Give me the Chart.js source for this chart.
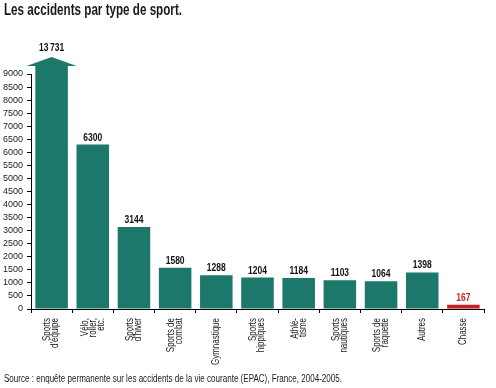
<!DOCTYPE html>
<html>
<head>
<meta charset="utf-8">
<script src="https://cdn.jsdelivr.net/npm/chart.js@4.4.0/dist/chart.umd.min.js"></script>
<style>
  html, body { margin: 0; padding: 0; background: #fff; }
  #wrap { width: 496px; height: 388px; position: relative; }
</style>
</head>
<body>
<div id="wrap"><canvas id="graph"></canvas></div>
<script>
// data
const categories = [
  ["Sports", "d'équipe"],
  ["Vélo,", "roller,", "etc."],
  ["Sports", "d'hiver"],
  ["Sports de", "combat"],
  ["Gymnastique"],
  ["Sports", "hippiques"],
  ["Athlé-", "tisme"],
  ["Sports", "nautiques"],
  ["Sports de", "raquette"],
  ["Autres"],
  ["Chasse"]
];
const accidents = [13731, 6300, 3144, 1580, 1288, 1204, 1184, 1103, 1064, 1398, 167];
const highlighted = "Chasse";
const yMax = 9000;
const yStep = 500;

const title = "Les accidents par type de sport.";
const source = "Source : enquête permanente sur les accidents de la vie courante (EPAC), France, 2004-2005.";

const TEAL = '#1b786b';
const RED = '#c61f27';
const FONT = "'Liberation Sans', Arial, sans-serif";

function isHighlight(i) { return categories[i].join(' ') === highlighted; }

function fmt(v) { // 13731 -> "13 731"
  if (v < 10000) return String(v);
  return String(v).replace(/\B(?=(\d{3})+(?!\d))/g, '\u2009');
}

// no condensed font installed, so squeeze text horizontally
function narrowText(ctx, txt, x, y, sx) {
  ctx.save();
  ctx.translate(x, y);
  ctx.scale(sx, 1);
  ctx.fillText(txt, 0, 0);
  ctx.restore();
}

// draws title, source, arrow for the cut bar, value labels and rotated category labels
const extras = {
  id: 'extras',
  afterDraw(chart) {
    const ctx = chart.ctx;
    const area = chart.chartArea;
    const meta = chart.getDatasetMeta(0);
    const xs = chart.scales.x;
    ctx.save();

    // title, fit to its width in the picture
    ctx.fillStyle = '#1a1a1a';
    ctx.font = "bold 16px " + FONT;
    ctx.textAlign = 'left';
    ctx.textBaseline = 'alphabetic';
    narrowText(ctx, title, 4, 15, 178 / ctx.measureText(title).width);

    // source
    ctx.font = "10px " + FONT;
    ctx.fillStyle = '#222';
    narrowText(ctx, source, 4, 382, 338 / ctx.measureText(source).width);

    meta.data.forEach((bar, i) => {
      const v = accidents[i];
      let labelY = bar.y - 4;
      if (v > yMax) { // bar goes off the scale: draw an arrow on top
        const w = bar.width;
        const shaftTop = area.top - 8;
        ctx.fillStyle = TEAL;
        ctx.fillRect(bar.x - w / 2, shaftTop, w, area.top - shaftTop + 1);
        ctx.beginPath();
        ctx.moveTo(bar.x - 25, shaftTop);
        ctx.lineTo(bar.x + 25, shaftTop);
        ctx.lineTo(bar.x, shaftTop - 9);
        ctx.closePath();
        ctx.fill();
        labelY = shaftTop - 15;
      }
      ctx.font = "bold 10px " + FONT;
      ctx.textAlign = 'center';
      ctx.textBaseline = 'alphabetic';
      ctx.fillStyle = isHighlight(i) ? RED : '#111';
      narrowText(ctx, fmt(v), bar.x, labelY, 0.85);

      // rotated category label, reading bottom to top
      const lines = categories[i];
      const lh = 8;
      const cx = xs.getPixelForValue(i);
      ctx.save();
      ctx.translate(cx, area.bottom + 9);
      ctx.rotate(-Math.PI / 2);
      ctx.font = "10.5px " + FONT;
      ctx.fillStyle = '#222';
      ctx.textAlign = 'right';
      ctx.textBaseline = 'middle';
      lines.forEach((ln, k) => {
        const off = (k - (lines.length - 1) / 2) * lh;
        narrowText(ctx, ln, 0, off, 0.76);
      });
      ctx.restore();
    });
    ctx.restore();
  }
};

new Chart(document.getElementById('graph'), {
  type: 'bar',
  data: {
    labels: categories,
    datasets: [{
      data: accidents,
      backgroundColor: c => isHighlight(c.dataIndex) ? RED : TEAL,
      barPercentage: 0.79,
      categoryPercentage: 1.0,
      borderWidth: 0
    }]
  },
  options: {
    responsive: true,
    maintainAspectRatio: false,
    animation: false,
    layout: { padding: { top: 74, right: 12, left: 0, bottom: 0 } },
    plugins: {
      legend: { display: false },
      tooltip: { enabled: false },
      title: { display: false }
    },
    scales: {
      x: {
        offset: true,
        grid: { display: true, drawOnChartArea: false, drawTicks: true, tickLength: 4, color: '#000', offset: true },
        border: { color: '#000', width: 1 },
        ticks: { display: false },
        afterFit(scale) { scale.height = 79; }
      },
      y: {
        min: 0,
        max: yMax,
        grid: { drawOnChartArea: false, drawTicks: true, tickLength: 4, color: '#000' },
        border: { color: '#000', width: 1 },
        ticks: {
          stepSize: yStep,
          autoSkip: false,
          padding: 4,
          color: '#222',
          font: { family: FONT, size: 9 },
          callback: v => String(v)
        },
        afterFit(scale) { scale.width = 31; }
      }
    }
  },
  plugins: [extras]
});
</script>
</body>
</html>
